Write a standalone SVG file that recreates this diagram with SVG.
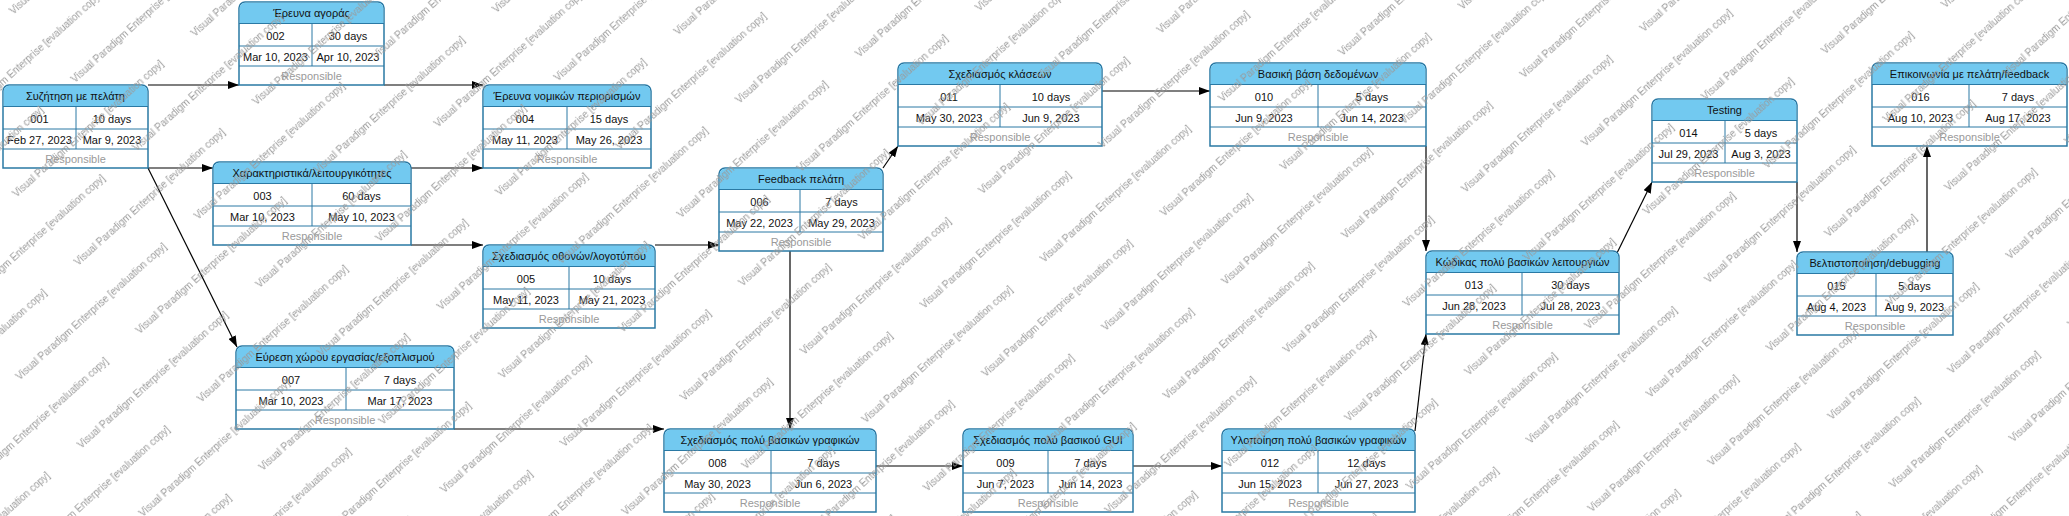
<svg xmlns="http://www.w3.org/2000/svg" width="2069" height="516" viewBox="0 0 2069 516">
<style>
  .frame{fill:#ffffff;stroke:#2a79a4;stroke-width:1.5}
  .head{fill:#72c9f0;stroke:none}
  .grid{stroke:#2a79a4;stroke-width:1;fill:none}
  .t{font-family:"Liberation Sans",Arial,sans-serif;font-size:11px;fill:#111;text-anchor:middle}
  .r{font-family:"Liberation Sans",Arial,sans-serif;font-size:11px;fill:#9a9a9a;text-anchor:middle}
  .conn{stroke:#000;stroke-width:1.2;fill:none;marker-end:url(#arr)}
  .wm{font-family:"Liberation Sans",Arial,sans-serif;font-size:10px;fill:#9a9a9a}
</style>
<defs>
  <marker id="arr" markerUnits="userSpaceOnUse" markerWidth="11" markerHeight="8" refX="11" refY="4" orient="auto">
    <path d="M0,0 L11,4 L0,8 Z" fill="#000"/>
  </marker>
  <pattern id="wmp" patternUnits="userSpaceOnUse" width="240" height="92" patternTransform="rotate(-42)">
    <text class="wm" x="0" y="20">Visual Paradigm Enterprise [evaluation copy]</text>
    <text class="wm" x="120" y="66">Visual Paradigm Enterprise [evaluation copy]</text>
    <text class="wm" x="-120" y="66">Visual Paradigm Enterprise [evaluation copy]</text>
  </pattern>
</defs>
<rect width="2069" height="516" fill="#ffffff"/>

<g id="connectors">
  <path class="conn" d="M148,85 H239"/>
  <path class="conn" d="M148,168 H213"/>
  <path class="conn" d="M148,168 L237,347"/>
  <path class="conn" d="M384,85 H483"/>
  <path class="conn" d="M411,168 H483"/>
  <path class="conn" d="M411,245 H483"/>
  <path class="conn" d="M655,245 H719"/>
  <path class="conn" d="M883,168 L898,146"/>
  <path class="conn" d="M790,251 V429"/>
  <path class="conn" d="M454,429 H664"/>
  <path class="conn" d="M876,466 H963"/>
  <path class="conn" d="M1133,466 H1222"/>
  <path class="conn" d="M1102,91 H1210"/>
  <path class="conn" d="M1426,146 V251"/>
  <path class="conn" d="M1415,431 L1426,334"/>
  <path class="conn" d="M1617,253 L1652,182"/>
  <path class="conn" d="M1797,182 V252"/>
  <path class="conn" d="M1927,252 V146"/>
</g>

<g id="n001" transform="translate(3,85)">
  <path class="frame" d="M0,83 V6 A6,6 0 0 1 6,0 H139 A6,6 0 0 1 145,6 V83 Z"/>
  <path class="head" d="M0.75,21.5 V6 A5.25,5.25 0 0 1 6,0.75 H139 A5.25,5.25 0 0 1 144.25,6 V21.5 Z"/>
  <path class="grid" d="M0,21.5 H145 M0,44 H145 M0,64 H145 M73,21.5 V64"/>
  <text class="t" x="72.5" y="15">Συζήτηση με πελάτη</text>
  <text class="t" x="36.5" y="37.5">001</text><text class="t" x="109" y="37.5">10 days</text>
  <text class="t" x="36.5" y="58.5">Feb 27, 2023</text><text class="t" x="109" y="58.5">Mar 9, 2023</text>
  <text class="r" x="72.5" y="78">Responsible</text>
</g>

<g id="n002" transform="translate(239,2)">
  <path class="frame" d="M0,83 V6 A6,6 0 0 1 6,0 H139 A6,6 0 0 1 145,6 V83 Z"/>
  <path class="head" d="M0.75,21.5 V6 A5.25,5.25 0 0 1 6,0.75 H139 A5.25,5.25 0 0 1 144.25,6 V21.5 Z"/>
  <path class="grid" d="M0,21.5 H145 M0,44 H145 M0,64 H145 M73,21.5 V64"/>
  <text class="t" x="72.5" y="15">Έρευνα αγοράς</text>
  <text class="t" x="36.5" y="37.5">002</text><text class="t" x="109" y="37.5">30 days</text>
  <text class="t" x="36.5" y="58.5">Mar 10, 2023</text><text class="t" x="109" y="58.5">Apr 10, 2023</text>
  <text class="r" x="72.5" y="78">Responsible</text>
</g>

<g id="n003" transform="translate(213,162)">
  <path class="frame" d="M0,83 V6 A6,6 0 0 1 6,0 H192 A6,6 0 0 1 198,6 V83 Z"/>
  <path class="head" d="M0.75,21.5 V6 A5.25,5.25 0 0 1 6,0.75 H192 A5.25,5.25 0 0 1 197.25,6 V21.5 Z"/>
  <path class="grid" d="M0,21.5 H198 M0,44 H198 M0,64 H198 M99,21.5 V64"/>
  <text class="t" x="99" y="15">Χαρακτηριστικά/λειτουργικότητες</text>
  <text class="t" x="49.5" y="37.5">003</text><text class="t" x="148.5" y="37.5">60 days</text>
  <text class="t" x="49.5" y="58.5">Mar 10, 2023</text><text class="t" x="148.5" y="58.5">May 10, 2023</text>
  <text class="r" x="99" y="78">Responsible</text>
</g>

<g id="n004" transform="translate(483,85)">
  <path class="frame" d="M0,83 V6 A6,6 0 0 1 6,0 H162 A6,6 0 0 1 168,6 V83 Z"/>
  <path class="head" d="M0.75,21.5 V6 A5.25,5.25 0 0 1 6,0.75 H162 A5.25,5.25 0 0 1 167.25,6 V21.5 Z"/>
  <path class="grid" d="M0,21.5 H168 M0,44 H168 M0,64 H168 M84,21.5 V64"/>
  <text class="t" x="84" y="15">Έρευνα νομικών περιορισμών</text>
  <text class="t" x="42" y="37.5">004</text><text class="t" x="126" y="37.5">15 days</text>
  <text class="t" x="42" y="58.5">May 11, 2023</text><text class="t" x="126" y="58.5">May 26, 2023</text>
  <text class="r" x="84" y="78">Responsible</text>
</g>

<g id="n005" transform="translate(483,245)">
  <path class="frame" d="M0,83 V6 A6,6 0 0 1 6,0 H166 A6,6 0 0 1 172,6 V83 Z"/>
  <path class="head" d="M0.75,21.5 V6 A5.25,5.25 0 0 1 6,0.75 H166 A5.25,5.25 0 0 1 171.25,6 V21.5 Z"/>
  <path class="grid" d="M0,21.5 H172 M0,44 H172 M0,64 H172 M86,21.5 V64"/>
  <text class="t" x="86" y="15">Σχεδιασμός οθονών/λογοτύπου</text>
  <text class="t" x="43" y="37.5">005</text><text class="t" x="129" y="37.5">10 days</text>
  <text class="t" x="43" y="58.5">May 11, 2023</text><text class="t" x="129" y="58.5">May 21, 2023</text>
  <text class="r" x="86" y="78">Responsible</text>
</g>

<g id="n006" transform="translate(719,168)">
  <path class="frame" d="M0,83 V6 A6,6 0 0 1 6,0 H158 A6,6 0 0 1 164,6 V83 Z"/>
  <path class="head" d="M0.75,21.5 V6 A5.25,5.25 0 0 1 6,0.75 H158 A5.25,5.25 0 0 1 163.25,6 V21.5 Z"/>
  <path class="grid" d="M0,21.5 H164 M0,44 H164 M0,64 H164 M81,21.5 V64"/>
  <text class="t" x="82" y="15">Feedback πελάτη</text>
  <text class="t" x="40.5" y="37.5">006</text><text class="t" x="122.5" y="37.5">7 days</text>
  <text class="t" x="40.5" y="58.5">May 22, 2023</text><text class="t" x="122.5" y="58.5">May 29, 2023</text>
  <text class="r" x="82" y="78">Responsible</text>
</g>

<g id="n007" transform="translate(236,346)">
  <path class="frame" d="M0,83 V6 A6,6 0 0 1 6,0 H212 A6,6 0 0 1 218,6 V83 Z"/>
  <path class="head" d="M0.75,21.5 V6 A5.25,5.25 0 0 1 6,0.75 H212 A5.25,5.25 0 0 1 217.25,6 V21.5 Z"/>
  <path class="grid" d="M0,21.5 H218 M0,44 H218 M0,64 H218 M110,21.5 V64"/>
  <text class="t" x="109" y="15">Εύρεση χώρου εργασίας/εξοπλισμού</text>
  <text class="t" x="55" y="37.5">007</text><text class="t" x="164" y="37.5">7 days</text>
  <text class="t" x="55" y="58.5">Mar 10, 2023</text><text class="t" x="164" y="58.5">Mar 17, 2023</text>
  <text class="r" x="109" y="78">Responsible</text>
</g>

<g id="n008" transform="translate(664,429)">
  <path class="frame" d="M0,83 V6 A6,6 0 0 1 6,0 H206 A6,6 0 0 1 212,6 V83 Z"/>
  <path class="head" d="M0.75,21.5 V6 A5.25,5.25 0 0 1 6,0.75 H206 A5.25,5.25 0 0 1 211.25,6 V21.5 Z"/>
  <path class="grid" d="M0,21.5 H212 M0,44 H212 M0,64 H212 M107,21.5 V64"/>
  <text class="t" x="106" y="15">Σχεδιασμός πολύ βασικών γραφικών</text>
  <text class="t" x="53.5" y="37.5">008</text><text class="t" x="159.5" y="37.5">7 days</text>
  <text class="t" x="53.5" y="58.5">May 30, 2023</text><text class="t" x="159.5" y="58.5">Jun 6, 2023</text>
  <text class="r" x="106" y="78">Responsible</text>
</g>

<g id="n009" transform="translate(963,429)">
  <path class="frame" d="M0,83 V6 A6,6 0 0 1 6,0 H164 A6,6 0 0 1 170,6 V83 Z"/>
  <path class="head" d="M0.75,21.5 V6 A5.25,5.25 0 0 1 6,0.75 H164 A5.25,5.25 0 0 1 169.25,6 V21.5 Z"/>
  <path class="grid" d="M0,21.5 H170 M0,44 H170 M0,64 H170 M85,21.5 V64"/>
  <text class="t" x="85" y="15">Σχεδιασμός πολύ βασικού GUI</text>
  <text class="t" x="42.5" y="37.5">009</text><text class="t" x="127.5" y="37.5">7 days</text>
  <text class="t" x="42.5" y="58.5">Jun 7, 2023</text><text class="t" x="127.5" y="58.5">Jun 14, 2023</text>
  <text class="r" x="85" y="78">Responsible</text>
</g>

<g id="n010" transform="translate(1210,63)">
  <path class="frame" d="M0,83 V6 A6,6 0 0 1 6,0 H210 A6,6 0 0 1 216,6 V83 Z"/>
  <path class="head" d="M0.75,21.5 V6 A5.25,5.25 0 0 1 6,0.75 H210 A5.25,5.25 0 0 1 215.25,6 V21.5 Z"/>
  <path class="grid" d="M0,21.5 H216 M0,44 H216 M0,64 H216 M108,21.5 V64"/>
  <text class="t" x="108" y="15">Βασική βάση δεδομένων</text>
  <text class="t" x="54" y="37.5">010</text><text class="t" x="162" y="37.5">5 days</text>
  <text class="t" x="54" y="58.5">Jun 9, 2023</text><text class="t" x="162" y="58.5">Jun 14, 2023</text>
  <text class="r" x="108" y="78">Responsible</text>
</g>

<g id="n011" transform="translate(898,63)">
  <path class="frame" d="M0,83 V6 A6,6 0 0 1 6,0 H198 A6,6 0 0 1 204,6 V83 Z"/>
  <path class="head" d="M0.75,21.5 V6 A5.25,5.25 0 0 1 6,0.75 H198 A5.25,5.25 0 0 1 203.25,6 V21.5 Z"/>
  <path class="grid" d="M0,21.5 H204 M0,44 H204 M0,64 H204 M102,21.5 V64"/>
  <text class="t" x="102" y="15">Σχεδιασμός κλάσεων</text>
  <text class="t" x="51" y="37.5">011</text><text class="t" x="153" y="37.5">10 days</text>
  <text class="t" x="51" y="58.5">May 30, 2023</text><text class="t" x="153" y="58.5">Jun 9, 2023</text>
  <text class="r" x="102" y="78">Responsible</text>
</g>

<g id="n012" transform="translate(1222,429)">
  <path class="frame" d="M0,83 V6 A6,6 0 0 1 6,0 H187 A6,6 0 0 1 193,6 V83 Z"/>
  <path class="head" d="M0.75,21.5 V6 A5.25,5.25 0 0 1 6,0.75 H187 A5.25,5.25 0 0 1 192.25,6 V21.5 Z"/>
  <path class="grid" d="M0,21.5 H193 M0,44 H193 M0,64 H193 M96,21.5 V64"/>
  <text class="t" x="96.5" y="15">Υλοποίηση πολύ βασικών γραφικών</text>
  <text class="t" x="48" y="37.5">012</text><text class="t" x="144.5" y="37.5">12 days</text>
  <text class="t" x="48" y="58.5">Jun 15, 2023</text><text class="t" x="144.5" y="58.5">Jun 27, 2023</text>
  <text class="r" x="96.5" y="78">Responsible</text>
</g>

<g id="n013" transform="translate(1426,251)">
  <path class="frame" d="M0,83 V6 A6,6 0 0 1 6,0 H187 A6,6 0 0 1 193,6 V83 Z"/>
  <path class="head" d="M0.75,21.5 V6 A5.25,5.25 0 0 1 6,0.75 H187 A5.25,5.25 0 0 1 192.25,6 V21.5 Z"/>
  <path class="grid" d="M0,21.5 H193 M0,44 H193 M0,64 H193 M96,21.5 V64"/>
  <text class="t" x="96.5" y="15">Κώδικας πολύ βασικών λειτουργιών</text>
  <text class="t" x="48" y="37.5">013</text><text class="t" x="144.5" y="37.5">30 days</text>
  <text class="t" x="48" y="58.5">Jun 28, 2023</text><text class="t" x="144.5" y="58.5">Jul 28, 2023</text>
  <text class="r" x="96.5" y="78">Responsible</text>
</g>

<g id="n014" transform="translate(1652,99)">
  <path class="frame" d="M0,83 V6 A6,6 0 0 1 6,0 H139 A6,6 0 0 1 145,6 V83 Z"/>
  <path class="head" d="M0.75,21.5 V6 A5.25,5.25 0 0 1 6,0.75 H139 A5.25,5.25 0 0 1 144.25,6 V21.5 Z"/>
  <path class="grid" d="M0,21.5 H145 M0,44 H145 M0,64 H145 M73,21.5 V64"/>
  <text class="t" x="72.5" y="15">Testing</text>
  <text class="t" x="36.5" y="37.5">014</text><text class="t" x="109" y="37.5">5 days</text>
  <text class="t" x="36.5" y="58.5">Jul 29, 2023</text><text class="t" x="109" y="58.5">Aug 3, 2023</text>
  <text class="r" x="72.5" y="78">Responsible</text>
</g>

<g id="n015" transform="translate(1797,252)">
  <path class="frame" d="M0,83 V6 A6,6 0 0 1 6,0 H150 A6,6 0 0 1 156,6 V83 Z"/>
  <path class="head" d="M0.75,21.5 V6 A5.25,5.25 0 0 1 6,0.75 H150 A5.25,5.25 0 0 1 155.25,6 V21.5 Z"/>
  <path class="grid" d="M0,21.5 H156 M0,44 H156 M0,64 H156 M79,21.5 V64"/>
  <text class="t" x="78" y="15">Βελτιστοποίηση/debugging</text>
  <text class="t" x="39.5" y="37.5">015</text><text class="t" x="117.5" y="37.5">5 days</text>
  <text class="t" x="39.5" y="58.5">Aug 4, 2023</text><text class="t" x="117.5" y="58.5">Aug 9, 2023</text>
  <text class="r" x="78" y="78">Responsible</text>
</g>

<g id="n016" transform="translate(1872,63)">
  <path class="frame" d="M0,83 V6 A6,6 0 0 1 6,0 H189 A6,6 0 0 1 195,6 V83 Z"/>
  <path class="head" d="M0.75,21.5 V6 A5.25,5.25 0 0 1 6,0.75 H189 A5.25,5.25 0 0 1 194.25,6 V21.5 Z"/>
  <path class="grid" d="M0,21.5 H195 M0,44 H195 M0,64 H195 M97,21.5 V64"/>
  <text class="t" x="97.5" y="15">Επικοινωνία με πελάτη/feedback</text>
  <text class="t" x="48.5" y="37.5">016</text><text class="t" x="146" y="37.5">7 days</text>
  <text class="t" x="48.5" y="58.5">Aug 10, 2023</text><text class="t" x="146" y="58.5">Aug 17, 2023</text>
  <text class="r" x="97.5" y="78">Responsible</text>
</g>

<rect id="watermark" width="2069" height="516" fill="url(#wmp)"/>
</svg>
